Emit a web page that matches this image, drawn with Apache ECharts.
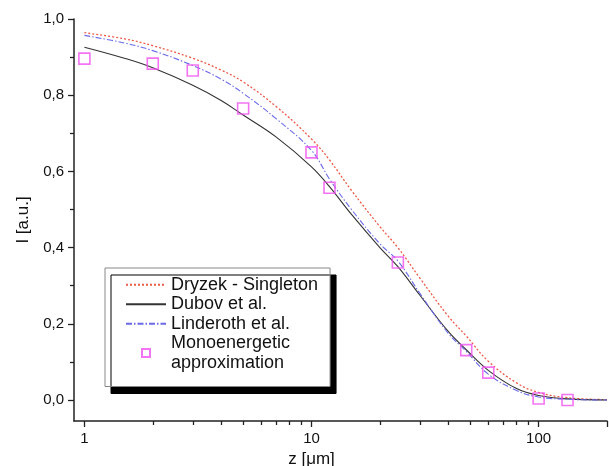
<!DOCTYPE html>
<html>
<head>
<meta charset="utf-8">
<script src="https://cdn.jsdelivr.net/npm/echarts@6/dist/echarts.min.js"></script>
<style>
  html, body { margin: 0; padding: 0; background: #fff; }
  #chart1 { width: 609px; height: 466px; }
</style>
</head>
<body>
<div id="chart1"></div>
<script>
// valores
const zGrid = [1, 1.5, 2, 3, 4, 5, 7, 10, 12, 15, 20, 24, 30, 40, 48, 60, 80, 100, 134, 200];
const dryzek = [0.964, 0.948, 0.930, 0.897, 0.866, 0.835, 0.770, 0.685, 0.630, 0.550, 0.455, 0.400, 0.320, 0.220, 0.168, 0.102, 0.045, 0.020, 0.006, 0.001];
const dubov = [0.926, 0.897, 0.872, 0.826, 0.786, 0.748, 0.690, 0.612, 0.560, 0.487, 0.400, 0.350, 0.275, 0.180, 0.132, 0.078, 0.030, 0.012, 0.003, 0.000];
const linderoth = [0.957, 0.937, 0.917, 0.878, 0.842, 0.805, 0.738, 0.655, 0.580, 0.500, 0.410, 0.365, 0.280, 0.175, 0.128, 0.068, 0.025, 0.008, 0.002, 0.000];
const monoZ = [1, 2, 3, 5, 10, 12, 24, 48, 60, 100, 134];
const monoI = [0.896, 0.883, 0.865, 0.765, 0.650, 0.557, 0.361, 0.131, 0.072, 0.004, 0.000];

const xMajor = [1, 10, 100, 200];
const xLabels = [1, 10, 100];
const xMinor = [2, 3, 4, 5, 6, 7, 8, 9, 20, 30, 40, 50, 60, 70, 80, 90];
const yMajor = [0, 0.2, 0.4, 0.6, 0.8, 1.0];
const yMinor = [0.1, 0.3, 0.5, 0.7, 0.9];

const pares = (xs, ys) => xs.map((x, i) => [x, ys[i]]);

const axisColor = '#222';
const fuente = 'Liberation Sans, Arial, sans-serif';
const sinSimbolo = { opacity: 0 };

const getOption = () => ({
    animation: false,
    grid: { left: 74, right: 2, top: 19, bottom: 45, containLabel: false, outerBoundsMode: 'none' },
    legend: {
        orient: 'vertical',
        left: 105,
        top: 268,
        padding: [7, 12, 14, 20],
        itemGap: 0,
        itemWidth: 40,
        itemHeight: 8,
        backgroundColor: '#fff',
        borderColor: '#888',
        borderWidth: 1,
        shadowColor: '#000',
        shadowBlur: 0,
        shadowOffsetX: 6,
        shadowOffsetY: 7,
        textStyle: { fontFamily: fuente, fontSize: 18, lineHeight: 19.5, color: '#111' },
        data: [
            { name: 'Dryzek - Singleton', itemStyle: sinSimbolo },
            { name: 'Dubov et al.', itemStyle: sinSimbolo },
            { name: 'Linderoth et al.', itemStyle: sinSimbolo },
            { name: 'Monoenergetic\napproximation', icon: 'path://M0,0L10,0L10,10L0,10Z' }
        ]
    },
    xAxis: [
        {
            type: 'log', logBase: 10, min: 0.9, max: 200,
            name: 'z [\u03bcm]', nameLocation: 'middle', nameGap: 27,
            nameTextStyle: { fontFamily: fuente, fontSize: 17, color: '#111', padding: [0, 58, 0, 0] },
            axisLine: { onZero: false, lineStyle: { color: axisColor, width: 1.5 } },
            axisTick: { customValues: xMajor, length: 6, lineStyle: { color: axisColor, width: 1.3 } },
            axisLabel: { customValues: xLabels, fontFamily: fuente, fontSize: 15, color: '#111', margin: 10 },
            splitLine: { show: false }
        },
        {
            type: 'log', logBase: 10, min: 0.9, max: 200, position: 'bottom',
            axisLine: { show: false, onZero: false },
            axisTick: { customValues: xMinor, length: 4, lineStyle: { color: axisColor, width: 1.3 } },
            axisLabel: { show: false },
            splitLine: { show: false }
        }
    ],
    yAxis: [
        {
            type: 'value', min: -0.055, max: 1.0,
            name: 'I [a.u.]', nameLocation: 'middle', nameGap: 40,
            nameTextStyle: { fontFamily: fuente, fontSize: 17, color: '#111' },
            axisLine: { show: true, onZero: false, lineStyle: { color: axisColor, width: 1.5 } },
            axisTick: { show: true, customValues: yMajor, length: 6, lineStyle: { color: axisColor, width: 1.3 } },
            axisLabel: {
                customValues: yMajor, fontFamily: fuente, fontSize: 15, color: '#111', margin: 10,
                formatter: v => v.toFixed(1).replace('.', ',')
            },
            splitLine: { show: false }
        },
        {
            type: 'value', min: -0.055, max: 1.0, position: 'left',
            axisLine: { show: false, onZero: false },
            axisTick: { show: true, customValues: yMinor, length: 4, lineStyle: { color: axisColor, width: 1.3 } },
            axisLabel: { show: false },
            splitLine: { show: false }
        }
    ],
    series: [
        {
            name: 'Dryzek - Singleton', type: 'line', smooth: 0.4, symbol: 'none',
            data: pares(zGrid, dryzek),
            itemStyle: { color: '#ee5a48' },
            lineStyle: { color: '#ee5a48', width: 1.3, type: [2, 2] },
            z: 2
        },
        {
            name: 'Dubov et al.', type: 'line', smooth: 0.4, symbol: 'none',
            data: pares(zGrid, dubov),
            itemStyle: { color: '#333' },
            lineStyle: { color: '#333', width: 1.1, type: 'solid' },
            z: 3
        },
        {
            name: 'Linderoth et al.', type: 'line', smooth: 0.4, symbol: 'none',
            data: pares(zGrid, linderoth),
            itemStyle: { color: '#6a6ae8' },
            lineStyle: { color: '#6a6ae8', width: 1.1, type: [6, 2, 1.5, 2] },
            z: 4
        },
        {
            name: 'Monoenergetic\napproximation', type: 'scatter', symbol: 'rect', symbolSize: 11,
            data: pares(monoZ, monoI),
            itemStyle: { color: 'rgba(255,255,255,0)', borderColor: '#f050f0', borderWidth: 1.6 },
            z: 5
        }
    ]
});

const initCharts = () => {
    const chart1 = echarts.init(document.getElementById('chart1'));
    chart1.setOption(getOption());
};

window.addEventListener('load', () => {
    initCharts();
});
</script>
</body>
</html>
